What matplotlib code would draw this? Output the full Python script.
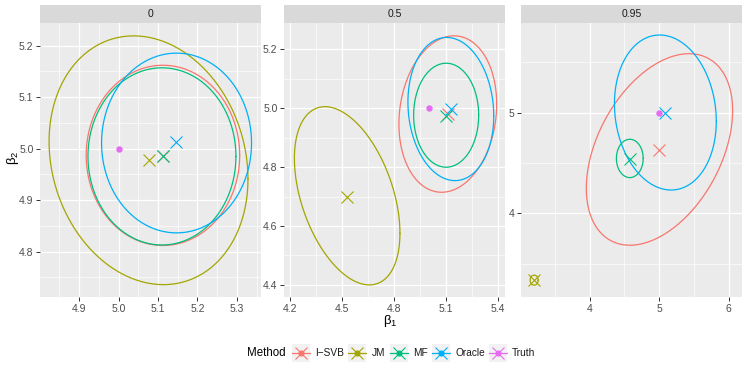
import numpy as np
import matplotlib.pyplot as plt
from matplotlib.patches import Rectangle
from matplotlib.ticker import MultipleLocator, FormatStrFormatter

plt.rcParams['font.family'] = ['Liberation Sans', 'DejaVu Sans']
plt.rcParams['mathtext.fontset'] = 'dejavusans'

methods = ["I\u2212SVB", "JM", "MF", "Oracle", "Truth"]
colors = ["#F8766D", "#A3A500", "#00BF7D", "#00B0F6", "#E76BF3"]
facets = ["0", "0.5", "0.95"]

# point estimates (I-SVB, JM, MF, Oracle) for each facet
est_b1 = [[5.112, 5.077, 5.112, 5.146],
          [5.113, 4.529, 5.100, 5.129],
          [5.002, 3.201, 4.588, 5.084]]
est_b2 = [[4.986, 4.978, 4.986, 5.012],
          [4.980, 4.700, 4.974, 4.996],
          [4.629, 3.339, 4.536, 5.000]]

# ellipse centre, half width (beta1), half height (beta2), correlation
ell_cx = [[5.1125, 5.076, 5.110, 5.147],
          [5.1115, 4.530, 5.102, 5.129],
          [5.005, 3.201, 4.578, 5.090]]
ell_cy = [[4.987, 4.9775, 4.985, 5.011],
          [4.980, 4.7025, 4.976, 4.997],
          [4.634, 3.339, 4.545, 5.000]]
ell_a = [[0.1945, 0.252, 0.1875, 0.190],
         [0.2825, 0.305, 0.188, 0.248],
         [1.053, 0.058, 0.193, 0.733]]
ell_b = [[0.175, 0.2415, 0.172, 0.1745],
         [0.2655, 0.3025, 0.1765, 0.243],
         [0.949, 0.050, 0.190, 0.768]]
ell_rho = [[0.0, -0.15, 0.0, 0.0],
           [0.127, -0.42, 0.0, -0.097],
           [0.405, 0.0, 0.0, -0.112]]

truth_b1 = 5.0
truth_b2 = 5.0

# axis ranges and tick steps per facet
xlims = [(4.801, 5.361), (4.165, 5.442), (3.012, 6.193)]
ylims = [(4.712, 5.244), (4.359, 5.289), (3.172, 5.887)]
x_step = [0.1, 0.3, 1.0]
y_step = [0.1, 0.2, 1.0]
fmt = ["%.1f", "%.1f", "%d"]

W, H = 747, 374
fig = plt.figure(figsize=(W / 100, H / 100), dpi=100)

panel_x = [(40, 261), (284, 505), (521, 742)]
p_top, p_bot = 23, 297
s_top = 5

t = np.linspace(0, 2 * np.pi, 400)

for k, f in enumerate(facets):
    x0, x1 = panel_x[k]
    ax = fig.add_axes([x0 / W, 1 - p_bot / H, (x1 - x0) / W, (p_bot - p_top) / H])
    ax.set_facecolor("#EBEBEB")
    for s in ax.spines.values():
        s.set_visible(False)

    for i in range(4):
        cx, cy = ell_cx[k][i], ell_cy[k][i]
        a, b, r = ell_a[k][i], ell_b[k][i], ell_rho[k][i]
        ex = cx + a * np.cos(t)
        ey = cy + b * (r * np.cos(t) + np.sqrt(1 - r * r) * np.sin(t))
        ax.plot(ex, ey, color=colors[i], lw=0.9, zorder=3,
                solid_capstyle="round", solid_joinstyle="round")
        ax.plot(est_b1[k][i], est_b2[k][i], marker="x", ms=8, mew=0.8,
                color=colors[i], ls="none", zorder=4)
    ax.plot(truth_b1, truth_b2, marker="o", ms=3.6, color=colors[4], ls="none", zorder=4)

    ax.set_xlim(xlims[k])
    ax.set_ylim(ylims[k])
    ax.xaxis.set_major_locator(MultipleLocator(x_step[k]))
    ax.xaxis.set_minor_locator(MultipleLocator(x_step[k] / 2))
    ax.yaxis.set_major_locator(MultipleLocator(y_step[k]))
    ax.yaxis.set_minor_locator(MultipleLocator(y_step[k] / 2))
    ax.xaxis.set_major_formatter(FormatStrFormatter(fmt[k]))
    ax.yaxis.set_major_formatter(FormatStrFormatter(fmt[k]))
    ax.grid(which="major", color="white", lw=0.9)
    ax.grid(which="minor", color="white", lw=0.45)
    ax.set_axisbelow(True)
    ax.tick_params(which="major", length=2.7, width=0.7, color="#333333",
                   labelsize=7.5, labelcolor="#4D4D4D", pad=2)
    ax.tick_params(which="minor", length=0)

    sax = fig.add_axes([x0 / W, 1 - p_top / H, (x1 - x0) / W, (p_top - s_top) / H])
    sax.set_facecolor("#D9D9D9")
    sax.set_xticks([])
    sax.set_yticks([])
    for s in sax.spines.values():
        s.set_visible(False)
    sax.text(0.5, 0.5, f, ha="center", va="center", fontsize=7.5, color="#1A1A1A",
             transform=sax.transAxes)

fig.text(390 / W, 1 - 321 / H, r"$\mathregular{β_1}$", ha="center", va="center", fontsize=9.5)
fig.text(13 / W, 1 - 158 / H, r"$\mathregular{β_2}$", ha="center", va="center",
         fontsize=9.5, rotation=90)

# legend drawn by hand, in pixel coordinates
lax = fig.add_axes([0, 0, 1, 1], facecolor="none")
lax.set_xlim(0, W)
lax.set_ylim(H, 0)
lax.axis("off")
ly = 353.3
key = 17.7
lax.text(286, ly, "Method", ha="right", va="center", fontsize=8.3, color="black")
key_x = [292.3, 348.3, 390.3, 432.3, 489]
for i, m in enumerate(methods):
    kx = key_x[i]
    lax.add_patch(Rectangle((kx, ly - key / 2), key, key, facecolor="#F2F2F2", edgecolor="none"))
    lax.plot([kx, kx + key], [ly, ly], color=colors[i], lw=0.9)
    lax.plot(kx + key / 2, ly, marker="x", ms=8, mew=0.8, color=colors[i])
    lax.plot(kx + key / 2, ly, marker="o", ms=3.4, color=colors[i])
    lax.text(kx + key + 5.5, ly, m, ha="left", va="center", fontsize=7.3, color="#1A1A1A")

fig.savefig("out.png", dpi=100)
